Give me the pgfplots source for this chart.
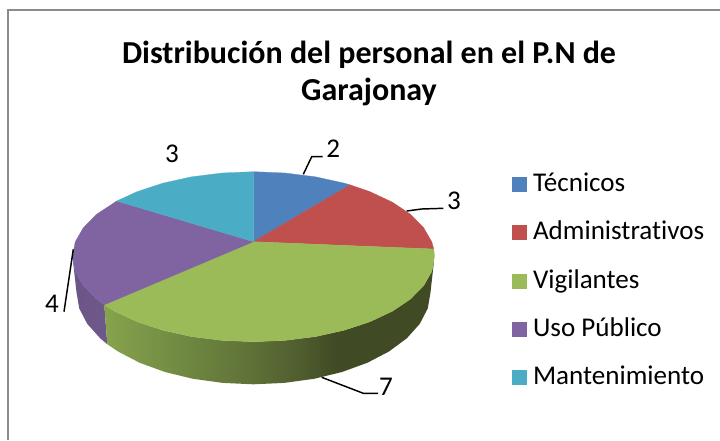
\documentclass[border=0pt]{standalone}
\usepackage{fontspec}
\setmainfont[Ligatures=NoCommon]{Carlito}
\usepackage{pgfplots}
\pgfplotsset{compat=1.18}
\definecolor{cblue}{HTML}{4F81BD}
\definecolor{cred}{HTML}{C0504D}
\definecolor{cgreen}{HTML}{9BBB59}
\definecolor{cpurple}{HTML}{8064A2}
\definecolor{cteal}{HTML}{4BACC6}
\definecolor{frame}{HTML}{8C8C8C}
\definecolor{gwa}{HTML}{86A34D}
\definecolor{gwb}{HTML}{6C843F}
\definecolor{gwc}{HTML}{5F7238}
\definecolor{gwe}{HTML}{4F5C2E}
\definecolor{gwd}{HTML}{404A24}
\definecolor{pwa}{HTML}{6A5485}
\definecolor{pwb}{HTML}{6F5A8C}
\pgfdeclarehorizontalshading{greenwall}{100bp}{color(0bp)=(gwa);color(25bp)=(gwa);color(39bp)=(gwb);color(47bp)=(gwc);color(55bp)=(gwe);color(60bp)=(gwd);color(100bp)=(gwd)}
\pgfdeclarehorizontalshading{purplewall}{100bp}{color(0bp)=(pwa);color(100bp)=(pwb)}
\begin{document}
\begin{tikzpicture}
\begin{axis}[
  scale only axis, width=540pt, height=330pt,
  xmin=0, xmax=720, ymin=0, ymax=440, y dir=reverse,
  hide axis, clip=true,
  legend image code/.code={\fill[#1, draw=none] (0pt,-0.4pt) rectangle (11.25pt,10.85pt);\path[draw=none, fill=none] (0pt,0pt) -- (15.8pt,0pt);},
  legend cell align=left,
  legend style={at={(axis cs:512,173)}, anchor=north west, draw=none, fill=none, inner sep=0pt, outer sep=0pt,
    font=\fontsize{20.3}{24}\selectfont, row sep=17.2pt,
    nodes={inner sep=0pt, outer sep=0pt, anchor=base west, xshift=5.25pt, text height=14pt, text depth=5pt}},
]
% page extent
\addplot[draw=none, forget plot] coordinates {(0,0)(720,440)};
% frame
\addplot[frame, line width=1.5pt, forget plot] coordinates {(8,440) (8,10) (720,10)};
% side walls
\addplot[draw=none, shading=purplewall, forget plot] coordinates {(72.5,256.7)(75.2,271.5)(83.4,285.8)(96.7,299.2)(104.3,304.8)(107.3,344.2)(100.2,338.3)(87.2,323.8)(79.2,308.3)(76.5,292.3)} -- cycle;
\addplot[draw=none, shading=greenwall, forget plot] coordinates {(104.3,304.8)(114.8,311.3)(137.2,321.8)(163,330.3)(191.6,336.6)(222.1,340.4)(253.5,341.7)(284.9,340.4)(315.4,336.6)(344,330.3)(369.8,321.8)(392.2,311.3)(410.3,299.2)(423.6,285.8)(431.8,271.5)(434.5,256.7)(430.5,292.3)(427.8,308.3)(419.8,323.8)(406.8,338.3)(389.1,351.4)(367.3,362.8)(342,372)(314,378.8)(284.2,382.9)(253.5,384.3)(222.8,382.9)(193,378.8)(165,372)(139.7,362.8)(117.9,351.4)(107.3,344.2)} -- cycle;
% top faces
\addplot[fill=cblue, draw=cblue, line width=0.2pt] coordinates {(253.5,241.7)(253.5,171.7)(284.9,173)(315.4,176.8)(344,183.1)(350,184.8)} -- cycle;
\addplot[fill=cred, draw=cred, line width=0.2pt] coordinates {(253.5,241.7)(350,184.8)(369.8,191.6)(392.2,202.1)(410.3,214.2)(423.6,227.6)(431.8,241.9)(433.8,249)} -- cycle;
\addplot[fill=cgreen, draw=cgreen, line width=0.2pt] coordinates {(253.5,241.7)(433.8,249)(434.5,256.7)(431.8,271.5)(423.6,285.8)(410.3,299.2)(392.2,311.3)(369.8,321.8)(344,330.3)(315.4,336.6)(284.9,340.4)(253.5,341.7)(222.1,340.4)(191.6,336.6)(163,330.3)(137.2,321.8)(114.8,311.3)(104.3,304.8)} -- cycle;
\addplot[fill=cpurple, draw=cpurple, line width=0.2pt] coordinates {(253.5,241.7)(104.3,304.8)(96.7,299.2)(83.4,285.8)(75.2,271.5)(72.5,256.7)(75.2,241.9)(83.4,227.6)(96.7,214.2)(116.7,201)} -- cycle;
\addplot[fill=cteal, draw=cteal, line width=0.2pt] coordinates {(253.5,241.7)(116.7,201)(137.2,191.6)(163,183.1)(191.6,176.8)(222.1,173)(253.5,171.7)} -- cycle;
\legend{Técnicos,Administrativos,Vigilantes,Uso Público,Mantenimiento}
% leaders
\addplot[black, line width=1.1pt, forget plot] coordinates {(303.3,174.3)(311.7,156.7)(322.7,156.7)};
\addplot[black, line width=1.1pt, forget plot] coordinates {(406.7,211)(421.7,209)(443.3,208.3)};
\addplot[black, line width=1.1pt, forget plot] coordinates {(321.7,377.3)(363.3,393.3)(378,393.3)};
\addplot[black, line width=1.1pt, forget plot] coordinates {(73.3,249.3)(64,311.7)};
% data labels
\node[font=\fontsize{20.3}{24}\selectfont] at (axis cs:333.3,149) {2};
\node[font=\fontsize{20.3}{24}\selectfont] at (axis cs:454,200.7) {3};
\node[font=\fontsize{20.3}{24}\selectfont] at (axis cs:386,387) {7};
\node[font=\fontsize{20.3}{24}\selectfont] at (axis cs:52,304) {4};
\node[font=\fontsize{20.3}{24}\selectfont] at (axis cs:172,154) {3};
% title
\node[font=\bfseries\fontsize{24}{24}\selectfont] at (axis cs:369,55) {Distribución del personal en el P.N de};
\node[font=\bfseries\fontsize{24}{24}\selectfont] at (axis cs:369,92) {Garajonay};
\end{axis}
\end{tikzpicture}
\end{document}
